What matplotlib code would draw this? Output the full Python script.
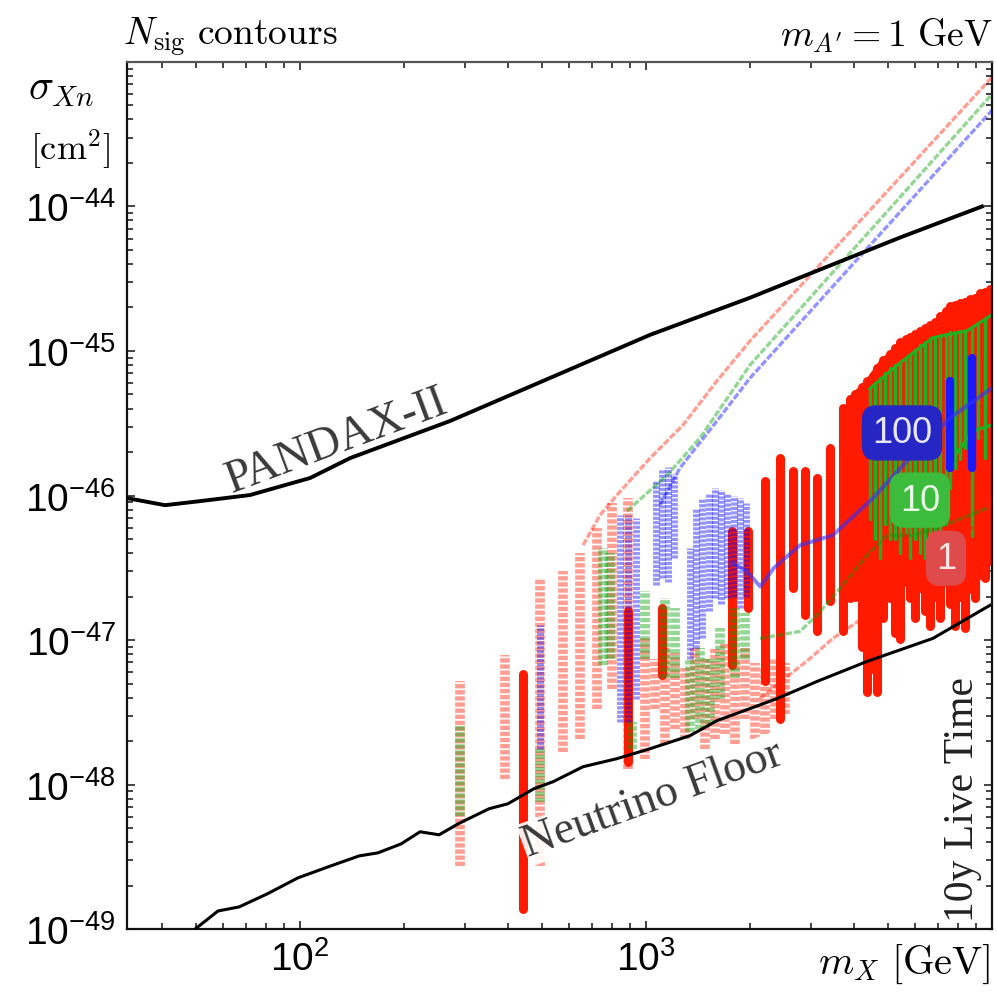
import numpy as np
import matplotlib.pyplot as plt
from matplotlib.ticker import LogLocator, FuncFormatter, NullFormatter

# all values are log10(m_X / GeV) and log10(sigma_Xn / cm^2)

pandax_m = [1.5, 1.61, 1.711, 1.855, 2.029, 2.145, 2.434, 2.723, 3.012, 3.301, 3.445, 3.734, 3.971]
pandax_s = [-46.018, -46.067, -46.039, -45.997, -45.879, -45.741, -45.484, -45.186, -44.888,
            -44.631, -44.492, -44.215, -44.0]

floor_m = [1.653, 1.697, 1.763, 1.824, 1.905, 1.994, 2.081, 2.171, 2.225, 2.292, 2.347, 2.402,
           2.457, 2.546, 2.601, 2.676, 2.731, 2.818, 2.916, 3.012, 3.127, 3.205, 3.301, 3.379,
           3.494, 3.639, 3.829, 3.994]
floor_s = [-49.07, -49.0, -48.875, -48.847, -48.757, -48.646, -48.570, -48.494, -48.473, -48.411,
           -48.327, -48.348, -48.272, -48.168, -48.133, -48.029, -47.981, -47.877, -47.821,
           -47.752, -47.662, -47.558, -47.474, -47.405, -47.287, -47.148, -46.989, -46.760]

# dashed contours (straight upper branch)
d1_up_m = [2.818, 2.867, 2.916, 3.012, 3.107, 3.205, 3.301, 4.0]
d1_up_s = [-46.344, -46.136, -45.997, -45.741, -45.512, -45.207, -44.929, -43.105]
d10_up_m = [2.945, 3.061, 3.156, 3.301, 4.0]
d10_up_s = [-46.108, -45.859, -45.602, -45.096, -43.223]
d100_up_m = [3.040, 3.098, 3.205, 3.301, 4.0]
d100_up_s = [-46.067, -45.810, -45.484, -45.186, -43.334]

# dashed contours (lower branch)
d1_low_m = [3.329, 3.474, 3.540, 3.639, 3.734, 3.829, 3.928, 4.003]
d1_low_s = [-47.405, -47.128, -46.989, -46.829, -46.594, -46.455, -46.275, -46.018]
d10_low_m = [3.329, 3.445, 3.494, 3.561, 3.639, 3.697, 3.772, 3.879, 3.986]
d10_low_s = [-46.989, -46.940, -46.829, -46.642, -46.413, -46.275, -46.275, -46.191, -46.087]

# dashed contours: oscillating lobes (mass, low, high)
d1_lobe_m = [2.462, 2.592, 2.694, 2.760, 2.809, 2.858, 2.902, 2.948, 2.997, 3.026, 3.055, 3.084,
             3.113, 3.142, 3.171, 3.199, 3.228, 3.257, 3.286, 3.315, 3.344, 3.373, 3.402]
d1_lobe_lo = [-48.563, -47.960, -48.563, -47.773, -47.682, -47.474, -47.336, -47.890, -47.821,
              -47.474, -47.717, -47.613, -47.682, -47.544, -47.752, -47.682, -47.648, -47.717,
              -47.544, -47.682, -47.648, -47.544, -47.509]
d1_lobe_hi = [-47.287, -47.107, -46.573, -46.524, -46.399, -46.226, -46.053, -46.018, -46.989,
              -47.128, -47.058, -47.093, -47.197, -47.058, -47.128, -47.058, -47.024, -47.128,
              -47.058, -47.162, -47.197, -47.128, -47.162]

d10_lobe_m = [2.462, 2.694, 2.876, 2.896, 2.960, 2.997, 3.055, 3.084, 3.127, 3.156, 3.185, 3.214,
              3.257, 3.286]
d10_lobe_lo = [-48.216, -48.119, -47.176, -47.128, -47.752, -47.128, -47.266, -47.266, -47.634,
               -47.613, -47.578, -47.405, -47.266, -47.128]
d10_lobe_hi = [-47.592, -47.752, -46.365, -46.399, -47.564, -46.663, -46.712, -46.781, -47.128,
               -47.058, -47.128, -46.920, -46.781, -46.815]

d100_lobe_m = [2.694, 2.925, 2.948, 2.971, 3.030, 3.047, 3.064, 3.081, 3.127, 3.145, 3.163, 3.181,
               3.199, 3.217, 3.235, 3.253, 3.272, 3.290]
d100_lobe_lo = [-47.752, -47.564, -47.564, -47.405, -46.62, -46.57, -46.60, -46.43, -47.128,
                -47.058, -46.989, -46.80, -46.712, -46.75, -46.712, -46.70, -46.781, -46.70]
d100_lobe_hi = [-46.899, -46.136, -46.136, -46.157, -45.90, -45.82, -45.80, -45.85, -46.365,
                -46.087, -46.018, -45.98, -45.949, -45.96, -45.983, -46.00, -46.018, -46.05]

# solid contours
n1_m = [2.645, 2.948, 3.046, 3.249, 3.295, 3.344, 3.387, 3.425, 3.460, 3.494, 3.532, 3.569, 3.590,
        3.605, 3.625, 3.639, 3.655, 3.668, 3.685, 3.705, 3.720, 3.734, 3.750, 3.763, 3.778, 3.792,
        3.806, 3.821, 3.836, 3.850, 3.866, 3.880, 3.893, 3.908, 3.922, 3.936, 3.951, 3.966, 3.980,
        3.993]
n1_lo = [-48.861, -47.842, -47.245, -47.176, -46.781, -47.287, -47.544, -46.642, -46.829, -46.940,
         -46.732, -46.940, -46.71, -46.70, -47.05, -47.36, -47.20, -47.36, -46.85, -46.71, -46.95,
         -46.99, -46.60, -46.71, -46.85, -46.64, -46.80, -46.90, -46.70, -46.85, -46.60, -46.75,
         -46.90, -46.70, -46.92, -46.65, -46.71, -46.55, -46.57, -46.45]
n1_hi = [-47.232, -46.802, -46.781, -46.247, -46.247, -45.900, -45.741, -45.831, -45.831, -45.879,
         -45.671, -45.394, -45.33, -45.30, -45.25, -45.21, -45.17, -45.12, -45.06, -45.02, -44.98,
         -44.94, -44.92, -44.90, -44.88, -44.86, -44.84, -44.82, -44.80, -44.76, -44.72, -44.69,
         -44.68, -44.67, -44.66, -44.64, -44.63, -44.60, -44.59, -44.57]
n1_top_m = [3.590, 3.639, 3.676, 3.734, 3.829, 3.887, 3.945, 4.0]
n1_top_s = [-45.325, -45.207, -45.082, -44.943, -44.818, -44.679, -44.631, -44.562]

n10_m = [3.647, 3.662, 3.676, 3.692, 3.705, 3.720, 3.734, 3.750, 3.763, 3.778, 3.792, 3.806,
         3.821, 3.836, 3.850, 3.866, 3.880, 3.893, 3.908, 3.922, 3.942, 3.960, 3.980]
n10_lo = [-46.16, -46.30, -46.43, -46.20, -46.30, -46.30, -46.40, -46.25, -46.43, -46.30, -46.40,
          -46.43, -46.35, -46.43, -46.43, -46.20, -45.95, -45.81, -45.75, -45.67, -46.28, -45.60,
          -45.74]
n10_hi = [-45.26, -45.22, -45.19, -45.15, -45.12, -45.10, -45.08, -45.05, -45.02, -44.99, -44.96,
          -44.94, -44.91, -44.90, -44.89, -44.88, -44.87, -44.87, -44.86, -44.86, -44.84, -44.81,
          -44.78]
n10_top_m = [3.647, 3.734, 3.829, 3.928, 4.0]
n10_top_s = [-45.26, -45.082, -44.908, -44.860, -44.749]
n10_side_m = [3.887, 3.945, 4.0]
n10_side_s = [-45.741, -45.553, -45.512]

n100_m = [3.879, 3.942]
n100_lo = [-45.810, -45.810]
n100_hi = [-45.207, -45.047]
n100_line_m = [3.250, 3.290, 3.330, 3.370, 3.445, 3.540, 3.656, 3.754, 3.879, 4.0]
n100_line_s = [-46.47, -46.52, -46.63, -46.50, -46.344, -46.275, -46.018, -45.761, -45.463, -45.255]


def P(a):
    return 10.0 ** np.asarray(a, dtype=float)


RED, GREEN, BLUE = '#ff1a00', '#22b022', '#1a1aff'

fig = plt.figure(figsize=(9.97, 9.95), dpi=100)
ax = fig.add_axes([0.1274, 0.0653, 0.8676, 0.8714])
ax.set_xscale('log')
ax.set_yscale('log')
ax.set_xlim(10 ** 1.5, 1e4)
ax.set_ylim(1e-49, 1e-43)

# solid contours
lc = ax.vlines(P(n1_m), P(n1_lo), P(n1_hi), colors=RED, linewidth=6.5, zorder=2)
lc.set_capstyle('round')
ax.plot(P(n1_top_m), P(n1_top_s), color=RED, lw=2.5, zorder=2)
lc = ax.vlines(P(n10_m), P(n10_lo), P(n10_hi), colors=GREEN, linewidth=2.4, zorder=2.2)
lc.set_capstyle('round')
ax.plot(P(n10_top_m), P(n10_top_s), color=GREEN, lw=2.2, zorder=2.2)
ax.plot(P(n10_side_m), P(n10_side_s), color=GREEN, lw=2.2, zorder=2.2)
lc = ax.vlines(P(n100_m), P(n100_lo), P(n100_hi), colors=BLUE, linewidth=6, zorder=2.4)
lc.set_capstyle('round')

# dashed contours (semi-transparent, drawn on top)
dash = (0, (0.45, 0.18))
for m, lo, hi, c, w in [(d1_lobe_m, d1_lobe_lo, d1_lobe_hi, RED, 7),
                        (d10_lobe_m, d10_lobe_lo, d10_lobe_hi, '#00a000', 7),
                        (d100_lobe_m, d100_lobe_lo, d100_lobe_hi, '#0000ff', 5)]:
    ax.vlines(P(m), P(lo), P(hi), colors=c, alpha=0.42, linewidth=w, linestyles=dash, zorder=3)

for m, s, c in [(d1_up_m, d1_up_s, RED), (d10_up_m, d10_up_s, '#00a000'),
                (d100_up_m, d100_up_s, '#0000ff'), (d1_low_m, d1_low_s, RED),
                (d10_low_m, d10_low_s, '#00a000')]:
    ax.plot(P(m), P(s), color=c, alpha=0.42, lw=2.4, ls=(0, (2, 0.6)), zorder=3)

ax.plot(P(n100_line_m), P(n100_line_s), color='#3030ff', alpha=0.6, lw=2.8, zorder=3.5)

# bounds
ax.plot(P(pandax_m), P(pandax_s), color='black', lw=2.8, zorder=5)
ax.plot(P(floor_m), P(floor_s), color='black', lw=2.2, zorder=5)

# labels
serif = 'Liberation Serif'
ax.text(10 ** 2.107, 10 ** -45.62, 'PANDAX-II', family=serif, fontsize=33, color='#3a3a3a',
        rotation=20.5, ha='center', va='center', rotation_mode='anchor', zorder=4)
ax.text(10 ** 3.02, 10 ** -48.10, 'Neutrino Floor', family=serif, fontsize=33, color='#3a3a3a',
        rotation=20, ha='center', va='center', rotation_mode='anchor', zorder=4,
        bbox=dict(fc='white', ec='none', pad=0.5, alpha=0.9))
ax.text(10 ** 3.915, 10 ** -48.10, '10y Live Time', family=serif, fontsize=30, color='#222222',
        rotation=90, ha='center', va='center', zorder=4)

box = 'round,pad=0.28,rounding_size=0.4'
ax.text(10 ** 3.740, 10 ** -45.567, '100', family='Liberation Sans', fontsize=26,
        color='#e6e6ff', ha='center', va='center', zorder=6,
        bbox=dict(boxstyle=box, fc='#2626c4', ec='none'))
ax.text(10 ** 3.792, 10 ** -46.032, '10', family='Liberation Sans', fontsize=26,
        color='#e6ffe6', ha='center', va='center', zorder=6,
        bbox=dict(boxstyle=box, fc='#3cbb3c', ec='none'))
ax.text(10 ** 3.867, 10 ** -46.434, '1', family='Liberation Sans', fontsize=26,
        color='#ffe6e6', ha='center', va='center', zorder=6,
        bbox=dict(boxstyle=box, fc='#df4a4a', ec='none'))

# frame and ticks
for sp in ax.spines.values():
    sp.set_linewidth(1.6)
    sp.set_color('#111111')
ax.spines['top'].set_color('#555555')
ax.set_xticks([1e2, 1e3])
ax.set_yticks([1e-49, 1e-48, 1e-47, 1e-46, 1e-45, 1e-44])
ax.xaxis.set_minor_locator(LogLocator(base=10, subs=np.arange(2, 10), numticks=10))
ax.yaxis.set_minor_locator(LogLocator(base=10, subs=np.arange(2, 10), numticks=10))
fmt = FuncFormatter(lambda v, p: r'$\mathregular{10^{%d}}$' % round(np.log10(v)))
ax.xaxis.set_major_formatter(fmt)
ax.yaxis.set_major_formatter(fmt)
ax.xaxis.set_minor_formatter(NullFormatter())
ax.yaxis.set_minor_formatter(NullFormatter())
ax.tick_params(which='both', direction='in', top=True, right=True, width=1.1, color='#111111')
ax.tick_params(which='major', length=6, labelsize=28, pad=8)
ax.tick_params(which='minor', length=4)
for lab in ax.get_xticklabels() + ax.get_yticklabels():
    lab.set_family('Liberation Sans')

fig.text(0.1234, 0.955, r'$N_{\mathrm{sig}}\ \mathrm{contours}$', fontsize=27,
         math_fontfamily='cm', ha='left', va='baseline')
fig.text(0.995, 0.953, r"$m_{A'}=1\ \mathrm{GeV}$", fontsize=27,
         math_fontfamily='cm', ha='right', va='baseline')
fig.text(0.028, 0.912, r'$\sigma_{Xn}$', fontsize=30, math_fontfamily='cm',
         ha='left', va='center')
fig.text(0.030, 0.849, r'$[\mathrm{cm}^2]$', fontsize=26, math_fontfamily='cm',
         ha='left', va='center')
fig.text(0.993, 0.021, r'$m_X\ [\mathrm{GeV}]$', fontsize=29, math_fontfamily='cm',
         ha='right', va='baseline')

fig.savefig('out.png', dpi=100, facecolor='white')
